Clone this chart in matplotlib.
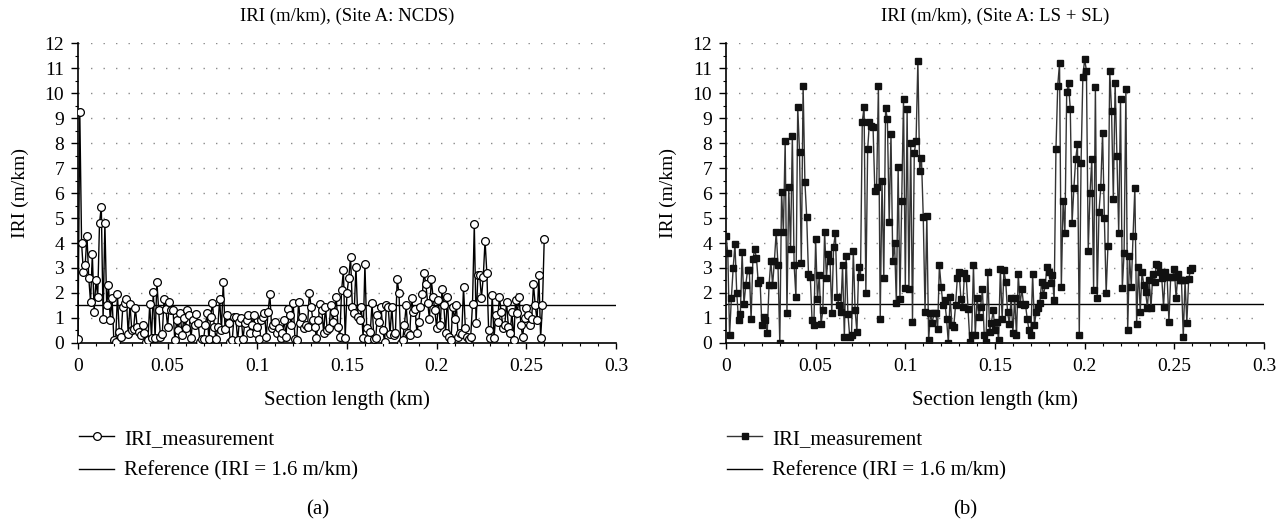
import numpy as np
import matplotlib
matplotlib.use('Agg')
import matplotlib.pyplot as plt

plt.rcParams['font.family'] = ['Liberation Serif', 'DejaVu Serif']

# IRI readings every 1 m (0.001 km), site A, NCDS (a)
iri_a = [
    0.15, 9.25, 4.0, 2.85, 3.1, 4.3, 2.6, 1.65, 3.55, 1.25, 2.5, 1.85, 4.8, 5.45, 0.95, 4.8,
    1.5, 2.3, 0.9, 1.8, 0.1, 0.05, 1.95, 0.45,
    0.25, 1.45, 1.6, 1.75, 0.35, 1.55, 0.5, 0.55, 1.4, 0.65, 0.45, 0.3, 0.7, 0.4, 0.05, 0.1,
    1.55, 0.2, 2.05, 0.2, 2.45, 1.3, 0.25, 0.35, 1.75, 1.35, 0.65, 1.65, 1.3, 1.3, 0.1,
    0.9, 0.5, 1.2, 0.3, 1.0, 0.6,
    1.3, 1.1, 0.2, 0.9, 0.7, 1.15, 0.8, 0.05, 0.15, 0.15, 0.7, 1.2, 0.15, 1.05, 1.6, 0.65,
    0.15, 0.65, 1.75, 0.5, 2.45, 0.55, 1.1, 0.8, 0.05, 0.1, 1.05,
    1.05, 0.1, 0.85, 1.0, 0.15, 0.8, 0.9, 1.1, 0.4, 0.7,
    1.1, 0.4, 0.65, 0.15, 0.9, 1.05, 1.2, 0.25, 1.25, 1.95,
    0.6, 0.7, 0.85, 0.4, 0.6, 0.2, 0.4, 0.9, 0.25, 1.35,
    1.1, 0.7, 1.6, 0.15, 0.1, 1.65, 0.8, 1.05, 0.6, 0.7,
    0.65, 2.0, 1.45, 0.9, 0.65, 0.2, 0.9, 1.55, 1.3, 0.4,
    1.45, 0.5, 0.6, 1.5, 0.85, 1.25, 1.85, 0.65, 0.25, 2.1,
    2.9, 0.2, 2.0, 2.6, 3.45, 1.45, 1.2, 3.05, 1.05, 0.9,
    1.45, 0.2, 3.15, 0.6, 0.15, 0.45, 1.6, 0.15, 0.2, 1.1,
    0.85, 1.45, 0.5, 0.05, 1.5, 1.45, 0.35,
    1.45, 0.3, 0.4, 2.55, 2.0, 0.0, 0.1, 0.7, 1.5, 0.4,
    0.3, 1.8, 1.25, 1.35, 0.4, 0.85, 1.45, 1.95, 2.8, 2.35,
    1.6, 0.95, 2.55, 1.85, 1.3, 0.6, 1.7, 0.7, 2.15, 1.5,
    0.4, 1.85, 0.25, 0.1, 1.45, 0.95, 1.5, 0.25, 0.4, 0.35,
    2.25, 0.6, 0.25, 0.15, 0.25, 1.55, 4.75, 0.8, 2.7, 2.7,
    1.8, 2.65, 4.1, 2.8, 0.5, 0.2, 1.9, 0.2, 1.1, 0.85,
    1.85, 1.25, 0.6, 0.7, 1.65, 0.65, 0.4, 1.25, 0.1, 1.7,
    1.2, 1.85, 0.7, 0.25, 1.0, 1.4, 1.1, 0.7, 0.95, 2.35, 1.5,
    0.9, 2.7, 0.2, 1.5, 4.15,
]

# IRI readings, site A, LS + SL (b)
iri_b = [
    4.3, 3.6, 0.3, 1.8, 3.0, 3.95, 2.0, 0.9, 1.15, 3.65,
    1.55, 2.3, 2.9, 2.9, 0.95, 3.35, 3.75, 3.4, 2.4, 2.5,
    0.7, 1.05, 0.9, 0.4, 2.3, 3.3, 2.3, 3.3, 4.45, 3.1,
    0.0, 6.05, 4.45, 8.1, 1.2, 6.25, 3.75, 8.3, 3.1, 1.85,
    9.45, 7.65, 3.2, 10.3, 6.45, 5.05, 2.75, 2.65, 0.9, 0.7,
    4.15, 1.75, 2.7, 0.75, 1.3, 4.45, 2.6, 3.55, 3.3, 1.2,
    3.85, 4.4, 1.85, 1.5, 1.25, 3.1, 0.25, 3.5, 1.15, 0.25,
    0.3, 3.7, 1.3, 0.45, 3.05, 2.65, 8.85, 9.45, 2.0, 7.75,
    8.85, 8.7, 8.65, 6.1, 6.25, 10.3, 0.95, 6.5, 2.6, 9.4,
    8.95, 4.85, 8.35, 3.3, 4.0, 1.6, 7.05, 1.75, 5.7, 9.75,
    2.2, 9.35, 2.15, 8.0, 0.85, 7.6,
    8.1, 11.3, 6.9, 7.4, 5.05, 1.25, 5.1, 0.1, 1.2, 0.8,
    1.2, 1.2, 0.55, 3.1, 2.25, 1.5, 1.7, 0.95, 0.0, 1.85,
    0.7, 0.65, 1.5, 2.6, 2.85, 1.75, 1.45, 2.8, 2.6, 1.35,
    0.05, 0.3, 3.1, 0.3, 1.8, 1.05, 1.45, 2.15, 0.3, 0.05,
    2.85, 0.45, 0.8, 1.3, 0.5, 0.85, 0.1, 2.95, 0.95, 2.9,
    2.45, 1.25, 0.75, 1.8, 0.4, 1.8, 0.3, 2.75, 1.55, 2.15,
    1.5, 1.55, 0.95, 0.5, 0.3, 2.75, 0.7, 1.25, 1.4, 1.6,
    2.45, 1.9, 2.3, 3.05, 2.85, 2.4, 2.7, 1.7, 7.75, 10.3,
    11.2, 2.25, 5.7, 4.4, 10.05, 10.4, 9.35, 4.8, 6.2, 7.35,
    7.95, 0.3, 7.2, 10.65, 11.35, 10.9, 3.7, 6.0, 7.35, 2.1,
    10.25, 1.8,
    5.25, 6.25, 8.4, 5.0, 2.0, 3.9, 10.9, 9.3, 5.75, 10.4,
    7.5, 4.4, 9.75, 2.2, 3.6, 10.15, 0.5, 3.5, 2.25, 4.3,
    6.2, 0.75, 3.05, 1.25, 2.85, 2.3, 2.05, 1.4, 2.5, 1.4,
    2.75, 2.45, 3.15, 3.1, 2.85, 2.6, 1.45, 2.85, 2.65, 0.85,
    2.65, 2.65, 2.95, 1.8, 2.75, 2.5, 2.5, 0.25, 2.5, 0.8,
    2.55, 2.9, 3.0,
]

step_km = 0.001
ref_a = 1.5
ref_b = 1.55
titles = ['IRI (m/km), (Site A: NCDS)', 'IRI (m/km), (Site A: LS + SL)']
captions = ['(a)', '(b)']
xticks = [0, 0.05, 0.1, 0.15, 0.2, 0.25, 0.3]
xtick_labels = ['0', '0.05', '0.1', '0.15', '0.2', '0.25', '0.3']

fig = plt.figure(figsize=(12.87, 5.26), dpi=100)
ax_a = fig.add_axes([0.0606, 0.348, 0.418, 0.570])
ax_b = fig.add_axes([0.5641, 0.348, 0.418, 0.570])

panels = [
    (ax_a, iri_a, ref_a, dict(marker='o', markersize=5.6, markerfacecolor='white',
                              markeredgecolor='black', markeredgewidth=0.9, color='black', lw=1.0)),
    (ax_b, iri_b, ref_b, dict(marker='s', markersize=4.4, markerfacecolor='#111111',
                              markeredgecolor='#111111', color='#333333', lw=1.0)),
]

for i, (ax, vals, ref, style) in enumerate(panels):
    x = np.arange(len(vals)) * step_km
    # dotted horizontal grid
    for y in range(1, 13):
        ax.axhline(y, color='#8a8a8a', lw=1.0, ls=(0, (1, 8)), zorder=0)
    ax.plot(x, vals, label='IRI_measurement', zorder=3, **style)
    ax.axhline(ref, color='black', lw=1.0, label='Reference (IRI = 1.6 m/km)', zorder=2)

    ax.set_xlim(0, 0.3)
    ax.set_ylim(0, 12)
    ax.set_xticks(xticks)
    ax.set_xticklabels(xtick_labels)
    ax.set_xticks(np.arange(0, 0.301, 0.01), minor=True)
    ax.set_yticks(range(0, 13))
    ax.set_yticks(np.arange(0, 12.01, 0.5), minor=True)
    ax.tick_params(axis='x', which='major', direction='out', length=4, width=1.0, labelsize=14, pad=7)
    ax.tick_params(axis='y', which='major', direction='out', length=5, width=1.0, labelsize=14, pad=5)
    ax.tick_params(which='minor', direction='out', length=2.5, width=0.8)
    for s in ['top', 'right']:
        ax.spines[s].set_visible(False)
    for s in ['left', 'bottom']:
        ax.spines[s].set_linewidth(1.2)

    ax.set_title(titles[i], fontsize=13.5, pad=16)
    ax.set_xlabel('Section length (km)', fontsize=15, labelpad=11)
    ax.set_ylabel('IRI (m/km)', fontsize=14, labelpad=11)

    ax.legend(loc='upper left', bbox_to_anchor=(-0.033, -0.225), frameon=False,
              fontsize=15, handlelength=1.7, handletextpad=0.45, labelspacing=0.6)
    ax.text(0.445, -0.556, captions[i], transform=ax.transAxes, ha='center',
            va='center', fontsize=15)

fig.savefig('out.png', dpi=100)
